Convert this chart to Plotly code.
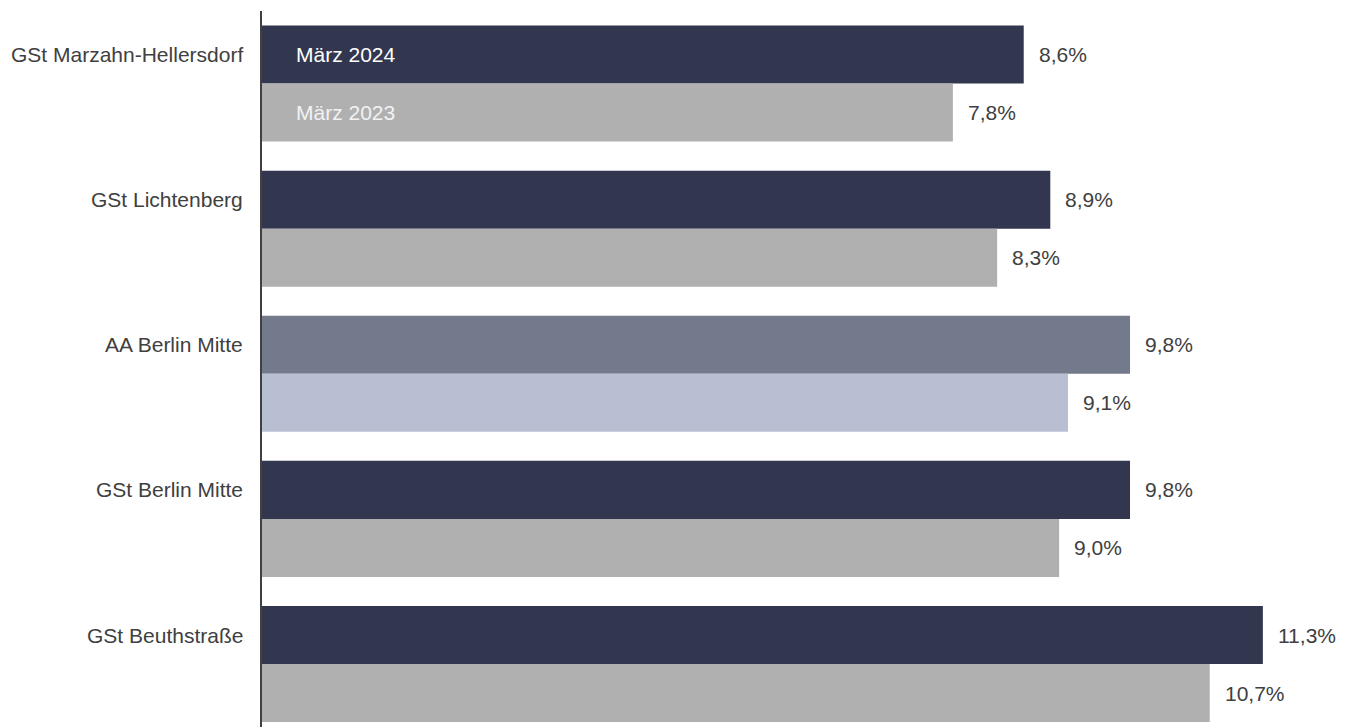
import plotly.graph_objects as go

categories = ["GSt Marzahn-Hellersdorf", "GSt Lichtenberg", "AA Berlin Mitte", "GSt Berlin Mitte", "GSt Beuthstraße"]
values_2024 = [8.6, 8.9, 9.8, 9.8, 11.3]
values_2023 = [7.8, 8.3, 9.1, 9.0, 10.7]
series_names = ["März 2024", "März 2023"]
colors_2024 = ["#32374f", "#32374f", "#727a8c", "#32374f", "#32374f"]
colors_2023 = ["#b0b0b0", "#b0b0b0", "#b9bfd2", "#b0b0b0", "#b0b0b0"]

FONT = "Liberation Sans, Arial, sans-serif"
TXT = "#404040"
FS = 21

fig = go.Figure()
fig.add_trace(go.Bar(y=categories, x=values_2024, orientation="h", name=series_names[0],
                     marker=dict(color=colors_2024, line=dict(width=0)), hoverinfo="x+y"))
fig.add_trace(go.Bar(y=categories, x=values_2023, orientation="h", name=series_names[1],
                     marker=dict(color=colors_2023, line=dict(width=0)), hoverinfo="x+y"))

annotations = []
for i, (cat, a, b) in enumerate(zip(categories, values_2024, values_2023)):
    # category label, aligned with the upper (2024) bar
    annotations.append(dict(x=0, y=i - 0.2, xref="paper", yref="y", text=cat, showarrow=False,
                            xanchor="right", yanchor="middle", xshift=-17,
                            font=dict(family=FONT, size=FS, color=TXT)))
    for v, off in ((a, -0.2), (b, 0.2)):
        annotations.append(dict(x=v, y=i + off, xref="x", yref="y", text=f"{v:.1f}%".replace(".", ","),
                                showarrow=False, xanchor="left", yanchor="middle", xshift=13,
                                font=dict(family=FONT, size=FS, color=TXT)))
annotations.append(dict(x=0, y=-0.2, xref="x", yref="y", text=series_names[0], showarrow=False,
                        xanchor="left", yanchor="middle", xshift=32, font=dict(family=FONT, size=FS, color="#ffffff")))
annotations.append(dict(x=0, y=0.2, xref="x", yref="y", text=series_names[1], showarrow=False,
                        xanchor="left", yanchor="middle", xshift=32, font=dict(family=FONT, size=FS, color="#f2f2f2")))

fig.update_layout(
    width=1347, height=719,
    margin=dict(l=254, r=0, t=3, b=0, autoexpand=False),
    barmode="group", bargap=0.2, bargroupgap=0,
    plot_bgcolor="white", paper_bgcolor="white",
    showlegend=False,
    annotations=annotations,
    xaxis=dict(range=[0, 12.34], visible=False, showgrid=False, zeroline=False),
    yaxis=dict(type="category", categoryorder="array", categoryarray=categories,
               range=[4.434, -0.5], showline=True, linecolor="#404040", linewidth=2,
               ticks="", showgrid=False, showticklabels=False, automargin=False),
    font=dict(family=FONT, size=FS, color=TXT),
)

fig.write_html("out.html")
